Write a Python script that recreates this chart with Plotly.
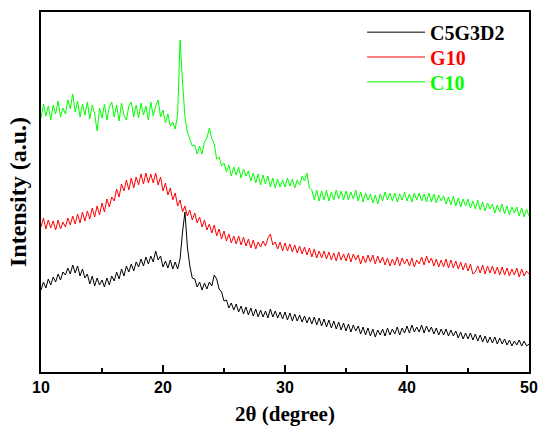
import plotly.graph_objects as go

# 2-theta grid: start 10 deg, step 0.2 deg, 201 points
theta_start = 10.0
theta_step = 0.2

c5g3d2 = [
    82, 90, 84, 93, 87, 95, 90, 98, 92, 100, 97, 104, 98, 107, 99,
    106, 96, 103, 94, 98, 88, 96, 86, 94, 87, 92, 85, 94, 87, 96,
    91, 100, 93, 103, 96, 106, 100, 108, 101, 110, 105, 113, 106, 115, 108,
    116, 110, 121, 112, 116, 105, 111, 104, 112, 103, 110, 103, 113, 140, 160,
    125, 106, 94, 93, 85, 90, 82, 89, 83, 90, 86, 97, 93, 83, 80,
    71, 72, 64, 69, 62, 68, 60, 66, 58, 65, 57, 64, 56, 63, 55,
    62, 55, 61, 54, 63, 55, 61, 54, 60, 53, 60, 52, 59, 51, 58,
    51, 57, 50, 56, 49, 55, 48, 55, 47, 54, 46, 53, 45, 52, 44,
    51, 43, 50, 42, 49, 41, 48, 40, 47, 41, 46, 38, 45, 37, 44,
    36, 43, 35, 42, 37, 43, 36, 44, 37, 43, 38, 45, 37, 44, 39,
    46, 39, 47, 40, 45, 40, 47, 39, 46, 40, 45, 38, 44, 37, 43,
    37, 43, 36, 42, 36, 41, 34, 40, 33, 39, 33, 39, 32, 38, 31,
    37, 30, 36, 29, 35, 29, 35, 28, 34, 28, 33, 27, 32, 26, 31,
    27, 32, 26, 31, 26, 28,
]

g10 = [
    145, 154, 143, 152, 144, 151, 142, 152, 143, 150, 145, 154, 147, 156, 148,
    158, 149, 160, 151, 161, 153, 164, 155, 166, 157, 169, 160, 173, 165, 175,
    171, 183, 175, 188, 181, 192, 182, 194, 184, 195, 187, 198, 188, 199, 189,
    198, 189, 199, 187, 195, 181, 189, 177, 184, 172, 179, 166, 172, 160, 166,
    156, 162, 152, 159, 149, 155, 145, 152, 142, 148, 139, 147, 136, 143, 133,
    141, 131, 138, 129, 136, 128, 136, 127, 135, 126, 133, 124, 132, 123, 130,
    125, 131, 126, 134, 138, 127, 130, 123, 130, 121, 129, 121, 128, 120, 127,
    119, 126, 118, 125, 117, 124, 115, 123, 114, 121, 114, 121, 113, 120, 112,
    119, 111, 120, 112, 118, 111, 119, 110, 118, 112, 117, 108, 116, 109, 117,
    110, 117, 108, 116, 109, 115, 107, 114, 106, 113, 107, 115, 106, 114, 108,
    113, 106, 114, 105, 112, 108, 115, 107, 116, 109, 114, 106, 113, 105, 112,
    105, 113, 104, 112, 104, 111, 103, 110, 102, 109, 101, 108, 98, 100, 106,
    99, 107, 98, 106, 99, 106, 98, 105, 97, 105, 97, 104, 96, 103, 97,
    104, 95, 103, 96, 101, 98,
]

c10 = [
    254, 268, 256, 266, 252, 267, 258, 271, 255, 264, 258, 272, 263, 278, 260,
    271, 255, 268, 257, 270, 253, 267, 258, 241, 264, 254, 268, 252, 265, 270,
    255, 267, 251, 269, 257, 252, 266, 270, 255, 267, 254, 269, 257, 266, 252,
    270, 256, 266, 272, 255, 262, 249, 258, 246, 250, 243, 257, 332, 290, 255,
    240, 233, 226, 227, 218, 226, 218, 230, 234, 244, 233, 228, 213, 215, 206,
    209, 200, 207, 196, 205, 197, 205, 194, 203, 196, 201, 191, 199, 189, 198,
    187, 197, 188, 196, 185, 194, 184, 193, 185, 192, 185, 194, 186, 193, 184,
    192, 187, 196, 191, 199, 184, 182, 172, 182, 171, 181, 172, 182, 171, 180,
    172, 182, 173, 181, 172, 181, 172, 180, 173, 182, 171, 180, 170, 179, 172,
    178, 169, 177, 168, 178, 171, 180, 172, 179, 171, 179, 170, 178, 172, 180,
    171, 178, 170, 179, 172, 179, 171, 178, 170, 179, 170, 178, 169, 177, 171,
    176, 168, 175, 167, 176, 166, 174, 165, 173, 166, 173, 164, 171, 163, 172,
    162, 170, 161, 169, 163, 168, 159, 167, 160, 168, 158, 166, 157, 165, 159,
    165, 156, 164, 155, 163, 156,
]

series_names = ["C5G3D2", "G10", "C10"]
series_colors = ["#000000", "#FF0000", "#00FF00"]
series_values = [c5g3d2, g10, c10]
legend_ids = ["legend", "legend2", "legend3"]
legend_rows = [0.944, 0.875, 0.806]

two_theta = [theta_start + theta_step * i for i in range(len(c5g3d2))]

fig = go.Figure()
for name, color, vals, lid in zip(series_names, series_colors, series_values, legend_ids):
    fig.add_trace(go.Scatter(
        x=two_theta, y=vals, mode="lines",
        line=dict(color=color, width=1),
        name=f"<span style='color:{color}'>{name}</span>",
        legend=lid,
    ))

legend_style = dict(
    x=0.658, xanchor="left", yanchor="middle",
    bgcolor="rgba(0,0,0,0)", borderwidth=0,
    font=dict(family="Liberation Serif", size=20, weight="bold"),
    itemwidth=58,
)
legend_layout = {lid: dict(y=yr, **legend_style) for lid, yr in zip(legend_ids, legend_rows)}

fig.update_layout(
    width=539, height=426,
    margin=dict(l=41, r=10, t=12, b=54),
    plot_bgcolor="white", paper_bgcolor="white",
    font=dict(family="Liberation Serif", color="black"),
    showlegend=True,
    **legend_layout,
    xaxis=dict(
        range=[10, 50], tickvals=[10, 20, 30, 40, 50],
        ticks="inside", ticklen=7, tickwidth=2, tickcolor="black",
        minor=dict(tickvals=[15, 25, 35, 45], ticks="inside", ticklen=4, tickwidth=2, tickcolor="black"),
        showline=True, linewidth=2, linecolor="black", mirror=True,
        showgrid=False, zeroline=False, automargin=False,
        tickfont=dict(family="Liberation Sans", size=16, weight="bold"),
        title=dict(text="2θ (degree)", font=dict(family="Liberation Serif", size=21, weight="bold"), standoff=15),
    ),
    yaxis=dict(
        range=[0, 360], showticklabels=False, ticks="",
        showline=True, linewidth=2, linecolor="black", mirror=True,
        showgrid=False, zeroline=False, automargin=False,
        title=dict(text="Intensity (a.u.)\u00a0\u00a0\u00a0", font=dict(family="Liberation Serif", size=24, weight="bold"), standoff=6),
    ),
)

fig.write_html("out.html")
